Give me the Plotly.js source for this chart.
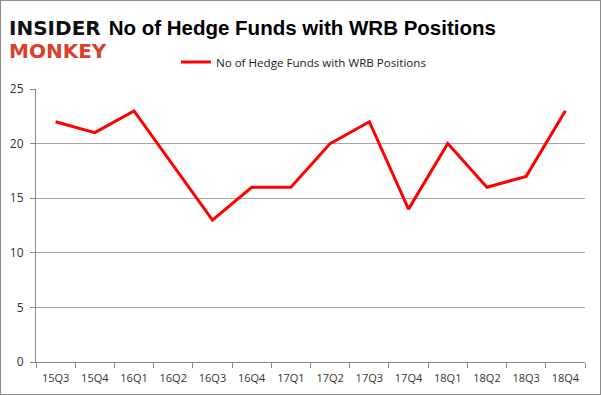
<!DOCTYPE html>
<html>
<head>
<meta charset="utf-8">
<script src="https://cdn.plot.ly/plotly-3.0.1.min.js"></script>
<style>
html,body{margin:0;padding:0;background:#fff;}
#chart{width:599px;height:393px;border:1px solid #8c8c8c;}
</style>
</head>
<body>
<div id="chart"></div>
<script>
const quarters = ["15Q3","15Q4","16Q1","16Q2","16Q3","16Q4","17Q1","17Q2","17Q3","17Q4","18Q1","18Q2","18Q3","18Q4"];
const hedgeFunds = [22,21,23,18,13,16,16,20,22,14,20,16,17,23];
const seriesName = "No of Hedge Funds with WRB Positions";
const chartTitle = "No of Hedge Funds with WRB Positions";

const font = "Open Sans, Liberation Sans, sans-serif";
Plotly.newPlot("chart", [{
  x: quarters, y: hedgeFunds, type: "scatter", mode: "lines", name: seriesName,
  line: {color: "#ff0000", width: 3}
}], {
  width: 599, height: 393,
  margin: {l: 35, r: 15, t: 88, b: 32},
  paper_bgcolor: "#fff", plot_bgcolor: "#fff",
  showlegend: true,
  legend: {orientation: "h", x: 0.488, xanchor: "center", y: 1.099, yanchor: "middle",
    font: {family: font, size: 11.6, color: "#222"}, itemwidth: 30},
  title: {text: "<b>" + chartTitle + "</b>", x: 0.503, xanchor: "center", y: 0.932, yanchor: "middle",
    font: {family: "Liberation Sans, Arial, sans-serif", size: 20.5, color: "#000"}},
  xaxis: {type: "category", range: [-0.5, 13.5], tickson: "boundaries", ticks: "outside", ticklen: 5, tickcolor: "#888",
    showline: true, linecolor: "#888", linewidth: 1, showgrid: false, ticklabelstandoff: 6,
    tickfont: {family: font, size: 11, color: "#333"}, fixedrange: true},
  yaxis: {range: [0, 25], dtick: 5, ticks: "outside", ticklen: 5, tickcolor: "#888",
    showline: true, linecolor: "#888", gridcolor: "#a6a6a6", gridwidth: 1, zeroline: false, ticklabelstandoff: 4,
    tickfont: {family: font, size: 12, color: "#333"}, fixedrange: true},
  annotations: [
    {text: "<b>INSIDER</b>", xref: "paper", yref: "paper", x: -0.053, y: 1.222, xanchor: "left", yanchor: "middle",
     showarrow: false, font: {family: "DejaVu Sans, sans-serif", size: 20, color: "#111"}},
    {text: "<b>MONKEY</b>", xref: "paper", yref: "paper", x: -0.053, y: 1.141, xanchor: "left", yanchor: "middle",
     showarrow: false, font: {family: "DejaVu Sans, sans-serif", size: 20, color: "#d9412b"}}
  ]
}, {displayModeBar: false, staticPlot: true});
</script>
</body>
</html>
